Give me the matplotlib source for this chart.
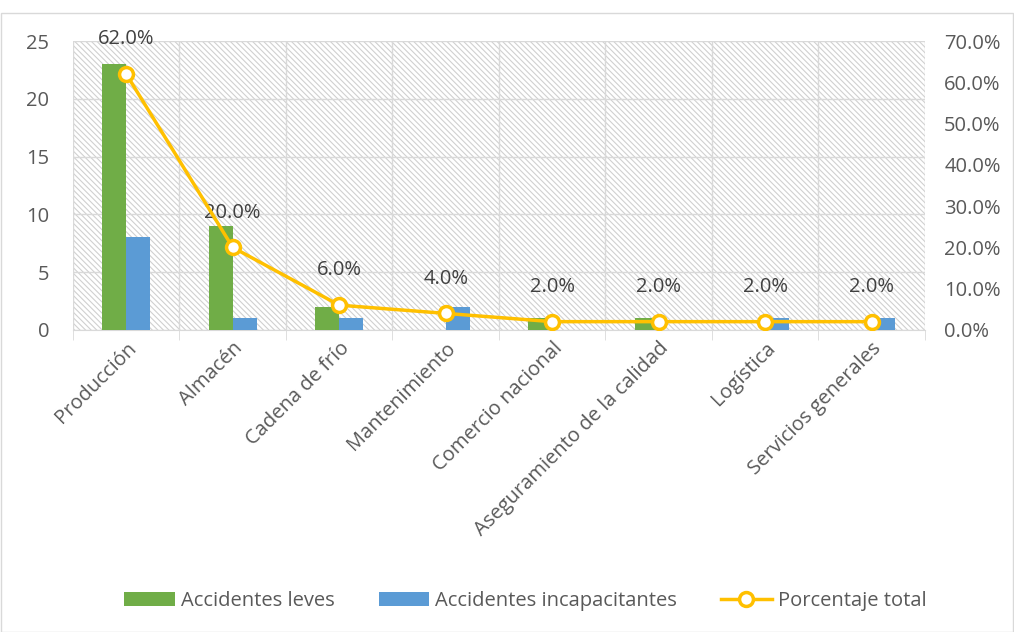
import matplotlib.pyplot as plt
import matplotlib.patches as mpatches
import numpy as np

categorias = ['Producción', 'Almacén', 'Cadena de frío', 'Mantenimiento',
              'Comercio nacional', 'Aseguramiento de la calidad', 'Logística',
              'Servicios generales']
leves = [23, 9, 2, 0, 1, 1, 0, 0]
incapacitantes = [8, 1, 1, 2, 0, 0, 1, 1]
porcentaje = [0.62, 0.20, 0.06, 0.04, 0.02, 0.02, 0.02, 0.02]

plt.rcParams['font.family'] = ['Open Sans', 'DejaVu Sans']
plt.rcParams['hatch.linewidth'] = 0.8
gris = '#595959'
linea = '#d9d9d9'
fs = 14.5

fig = plt.figure(figsize=(10.14, 6.32), dpi=100)
ax = fig.add_axes([0.072, 0.478, 0.84, 0.457])
x = np.arange(len(categorias))

# fondo rayado
ax.add_patch(mpatches.Rectangle((0, 0), 1, 1, transform=ax.transAxes, facecolor='white',
                                edgecolor='#d0d0d0', hatch='\\\\\\\\\\\\', linewidth=0, zorder=0))
ax.set_axisbelow(True)

w = 0.225
ax.bar(x - w/2, leves, w, color='#70ad47', label='Accidentes leves', zorder=3)
ax.bar(x + w/2, incapacitantes, w, color='#5b9bd5', label='Accidentes incapacitantes', zorder=3)

ax.set_xlim(-0.5, len(categorias) - 0.5)
ax.set_ylim(0, 25)
ax.set_yticks(range(0, 26, 5))
ax.set_xticks(x)
ax.set_xticklabels(categorias, rotation=45, ha='right', rotation_mode='anchor', fontsize=fs, color=gris)
ax.tick_params(axis='x', length=0, pad=6)
ax.set_xticks(np.arange(-0.5, len(categorias), 1), minor=True)
ax.tick_params(axis='x', which='minor', length=7, color=linea)
ax.tick_params(axis='y', length=0, labelsize=fs, labelcolor=gris, pad=17)
ax.grid(True, which='minor', axis='x', color=linea, linewidth=1)
ax.grid(True, which='major', axis='y', color=linea, linewidth=1)
for s in ['top', 'left', 'right']:
    ax.spines[s].set_visible(False)
ax.spines['bottom'].set_color(linea)

ax2 = ax.twinx()
ax2.plot(x, porcentaje, color='#ffc000', linewidth=2.5, marker='o', markersize=10,
         markerfacecolor='white', markeredgewidth=2.5, label='Porcentaje total', zorder=5)
ax2.set_ylim(0, 0.7)
ax2.set_yticks(np.arange(0, 0.71, 0.1))
ax2.set_yticklabels([f'{v*100:.1f}%' for v in np.arange(0, 0.71, 0.1)])
ax2.tick_params(axis='y', length=0, labelsize=fs, labelcolor=gris, pad=14)
for s in ['top', 'left', 'right', 'bottom']:
    ax2.spines[s].set_visible(False)
for xi, p in zip(x, porcentaje):
    ax2.annotate(f'{p*100:.1f}%', (xi, p), xytext=(0, 25), textcoords='offset points',
                 ha='center', va='center', fontsize=fs, color='#404040')

h1, l1 = ax.get_legend_handles_labels()
h2, l2 = ax2.get_legend_handles_labels()
fig.legend(h1 + h2, l1 + l2, loc='center', bbox_to_anchor=(0.518, 0.049), ncol=3,
           frameon=False, fontsize=fs, labelcolor=gris, handlelength=2.5,
           columnspacing=2.2, handletextpad=0.3)

# borde del gráfico
fig.add_artist(mpatches.Rectangle((0.001, 0.0), 0.998, 0.98, transform=fig.transFigure,
                                  fill=False, edgecolor=linea, linewidth=1))

fig.savefig('out.png', dpi=100)
